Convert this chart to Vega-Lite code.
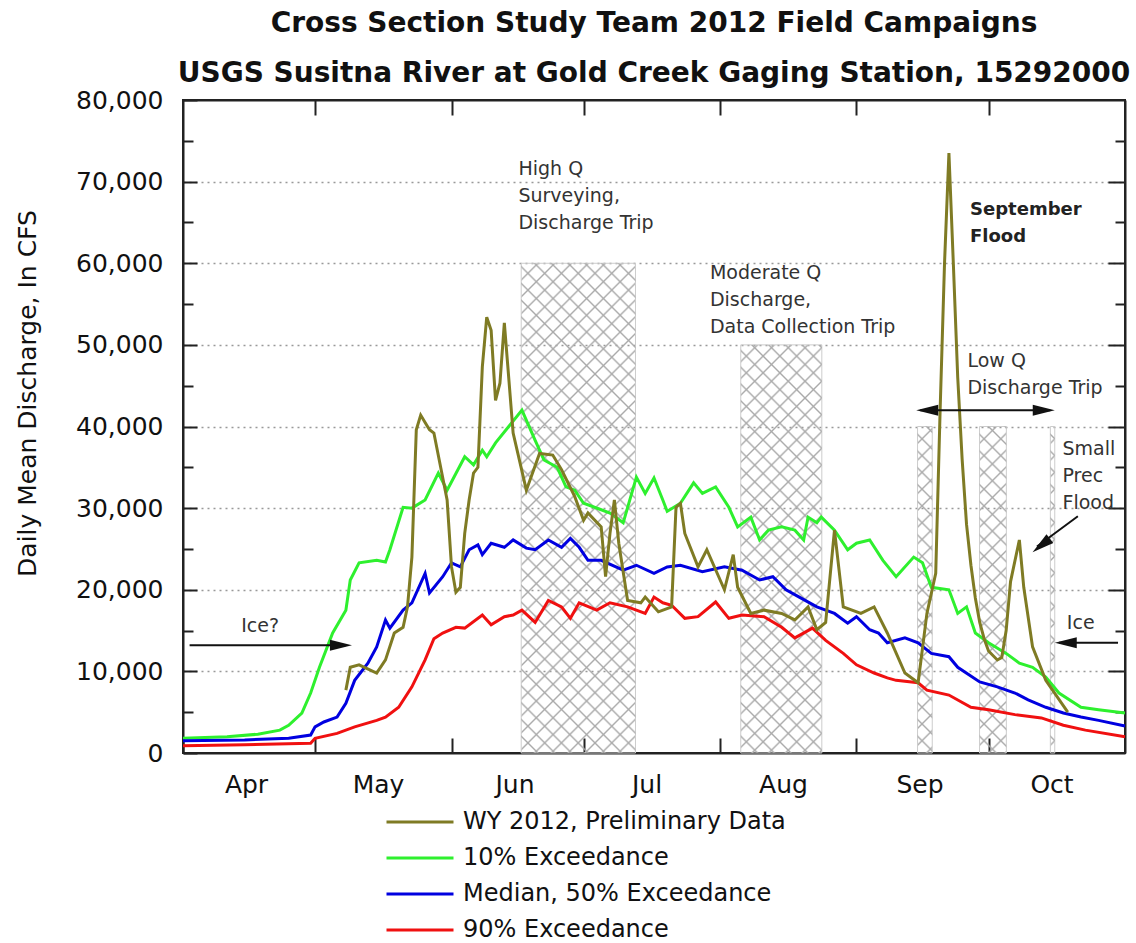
{
  "$schema": "https://vega.github.io/schema/vega-lite/v6.json",
  "width": 942,
  "height": 653,
  "autosize": {"type": "none"},
  "padding": {"left": 183, "top": 100, "right": 11, "bottom": 190},
  "background": "white",
  "title": {
    "text": ["Cross Section Study Team 2012 Field Campaigns", "USGS Susitna River at Gold Creek Gaging Station, 15292000"],
    "font": "DejaVu Sans", "fontSize": 28, "fontWeight": "bold", "lineHeight": 50, "anchor": "middle", "offset": 0, "color": "#111"
  },
  "params": [
    {"name": "hatch", "value": [
      {"offset":0.0245,"color":"rgba(170,170,170,0)"},{"offset":0.0278,"color":"#aaaaaa"},{"offset":0.0311,"color":"rgba(170,170,170,0)"},
      {"offset":0.0523,"color":"rgba(170,170,170,0)"},{"offset":0.0556,"color":"#aaaaaa"},{"offset":0.0589,"color":"rgba(170,170,170,0)"},
      {"offset":0.0800,"color":"rgba(170,170,170,0)"},{"offset":0.0833,"color":"#aaaaaa"},{"offset":0.0866,"color":"rgba(170,170,170,0)"},
      {"offset":0.1078,"color":"rgba(170,170,170,0)"},{"offset":0.1111,"color":"#aaaaaa"},{"offset":0.1144,"color":"rgba(170,170,170,0)"},
      {"offset":0.1356,"color":"rgba(170,170,170,0)"},{"offset":0.1389,"color":"#aaaaaa"},{"offset":0.1422,"color":"rgba(170,170,170,0)"},
      {"offset":0.1634,"color":"rgba(170,170,170,0)"},{"offset":0.1667,"color":"#aaaaaa"},{"offset":0.1700,"color":"rgba(170,170,170,0)"},
      {"offset":0.1911,"color":"rgba(170,170,170,0)"},{"offset":0.1944,"color":"#aaaaaa"},{"offset":0.1977,"color":"rgba(170,170,170,0)"},
      {"offset":0.2189,"color":"rgba(170,170,170,0)"},{"offset":0.2222,"color":"#aaaaaa"},{"offset":0.2255,"color":"rgba(170,170,170,0)"},
      {"offset":0.2467,"color":"rgba(170,170,170,0)"},{"offset":0.2500,"color":"#aaaaaa"},{"offset":0.2533,"color":"rgba(170,170,170,0)"},
      {"offset":0.2745,"color":"rgba(170,170,170,0)"},{"offset":0.2778,"color":"#aaaaaa"},{"offset":0.2811,"color":"rgba(170,170,170,0)"},
      {"offset":0.3023,"color":"rgba(170,170,170,0)"},{"offset":0.3056,"color":"#aaaaaa"},{"offset":0.3089,"color":"rgba(170,170,170,0)"},
      {"offset":0.3300,"color":"rgba(170,170,170,0)"},{"offset":0.3333,"color":"#aaaaaa"},{"offset":0.3366,"color":"rgba(170,170,170,0)"},
      {"offset":0.3578,"color":"rgba(170,170,170,0)"},{"offset":0.3611,"color":"#aaaaaa"},{"offset":0.3644,"color":"rgba(170,170,170,0)"},
      {"offset":0.3856,"color":"rgba(170,170,170,0)"},{"offset":0.3889,"color":"#aaaaaa"},{"offset":0.3922,"color":"rgba(170,170,170,0)"},
      {"offset":0.4134,"color":"rgba(170,170,170,0)"},{"offset":0.4167,"color":"#aaaaaa"},{"offset":0.4200,"color":"rgba(170,170,170,0)"},
      {"offset":0.4411,"color":"rgba(170,170,170,0)"},{"offset":0.4444,"color":"#aaaaaa"},{"offset":0.4477,"color":"rgba(170,170,170,0)"},
      {"offset":0.4689,"color":"rgba(170,170,170,0)"},{"offset":0.4722,"color":"#aaaaaa"},{"offset":0.4755,"color":"rgba(170,170,170,0)"},
      {"offset":0.4967,"color":"rgba(170,170,170,0)"},{"offset":0.5000,"color":"#aaaaaa"},{"offset":0.5033,"color":"rgba(170,170,170,0)"},
      {"offset":0.5245,"color":"rgba(170,170,170,0)"},{"offset":0.5278,"color":"#aaaaaa"},{"offset":0.5311,"color":"rgba(170,170,170,0)"},
      {"offset":0.5523,"color":"rgba(170,170,170,0)"},{"offset":0.5556,"color":"#aaaaaa"},{"offset":0.5589,"color":"rgba(170,170,170,0)"},
      {"offset":0.5800,"color":"rgba(170,170,170,0)"},{"offset":0.5833,"color":"#aaaaaa"},{"offset":0.5866,"color":"rgba(170,170,170,0)"},
      {"offset":0.6078,"color":"rgba(170,170,170,0)"},{"offset":0.6111,"color":"#aaaaaa"},{"offset":0.6144,"color":"rgba(170,170,170,0)"},
      {"offset":0.6356,"color":"rgba(170,170,170,0)"},{"offset":0.6389,"color":"#aaaaaa"},{"offset":0.6422,"color":"rgba(170,170,170,0)"},
      {"offset":0.6634,"color":"rgba(170,170,170,0)"},{"offset":0.6667,"color":"#aaaaaa"},{"offset":0.6700,"color":"rgba(170,170,170,0)"},
      {"offset":0.6911,"color":"rgba(170,170,170,0)"},{"offset":0.6944,"color":"#aaaaaa"},{"offset":0.6977,"color":"rgba(170,170,170,0)"},
      {"offset":0.7189,"color":"rgba(170,170,170,0)"},{"offset":0.7222,"color":"#aaaaaa"},{"offset":0.7255,"color":"rgba(170,170,170,0)"},
      {"offset":0.7467,"color":"rgba(170,170,170,0)"},{"offset":0.7500,"color":"#aaaaaa"},{"offset":0.7533,"color":"rgba(170,170,170,0)"},
      {"offset":0.7745,"color":"rgba(170,170,170,0)"},{"offset":0.7778,"color":"#aaaaaa"},{"offset":0.7811,"color":"rgba(170,170,170,0)"},
      {"offset":0.8023,"color":"rgba(170,170,170,0)"},{"offset":0.8056,"color":"#aaaaaa"},{"offset":0.8089,"color":"rgba(170,170,170,0)"},
      {"offset":0.8300,"color":"rgba(170,170,170,0)"},{"offset":0.8333,"color":"#aaaaaa"},{"offset":0.8366,"color":"rgba(170,170,170,0)"},
      {"offset":0.8578,"color":"rgba(170,170,170,0)"},{"offset":0.8611,"color":"#aaaaaa"},{"offset":0.8644,"color":"rgba(170,170,170,0)"},
      {"offset":0.8856,"color":"rgba(170,170,170,0)"},{"offset":0.8889,"color":"#aaaaaa"},{"offset":0.8922,"color":"rgba(170,170,170,0)"},
      {"offset":0.9134,"color":"rgba(170,170,170,0)"},{"offset":0.9167,"color":"#aaaaaa"},{"offset":0.9200,"color":"rgba(170,170,170,0)"},
      {"offset":0.9411,"color":"rgba(170,170,170,0)"},{"offset":0.9444,"color":"#aaaaaa"},{"offset":0.9477,"color":"rgba(170,170,170,0)"},
      {"offset":0.9689,"color":"rgba(170,170,170,0)"},{"offset":0.9722,"color":"#aaaaaa"},{"offset":0.9755,"color":"rgba(170,170,170,0)"}
    ]}
  ],
  "config": {
    "view": {"stroke": "#222", "strokeWidth": 2},
    "font": "DejaVu Sans",
    "axis": {
      "domainColor": "#222", "domainWidth": 2, "tickColor": "#222", "tickWidth": 2,
      "labelFont": "DejaVu Sans", "labelColor": "#111", "titleFont": "DejaVu Sans", "titleColor": "#111",
      "gridColor": "#999", "gridDash": [2, 4], "gridWidth": 1.3, "labelFlush": false, "labelOverlap": false, "labelBound": false
    }
  },
  "datasets": {
    "flows": [
      {"s":"P10","d":"2012-04-01","q":1800},{"s":"P10","d":"2012-04-11","q":2000},{"s":"P10","d":"2012-04-18","q":2300},{"s":"P10","d":"2012-04-23","q":2800},{"s":"P10","d":"2012-04-25","q":3400},{"s":"P10","d":"2012-04-28","q":4900},{"s":"P10","d":"2012-04-30","q":7350},{"s":"P10","d":"2012-05-02","q":10500},{"s":"P10","d":"2012-05-05","q":14700},{"s":"P10","d":"2012-05-08","q":17500},{"s":"P10","d":"2012-05-09","q":21200},{"s":"P10","d":"2012-05-11","q":23300},{"s":"P10","d":"2012-05-15","q":23600},{"s":"P10","d":"2012-05-17","q":23400},{"s":"P10","d":"2012-05-18","q":24900},{"s":"P10","d":"2012-05-21","q":30100},{"s":"P10","d":"2012-05-23","q":30000},{"s":"P10","d":"2012-05-26","q":31000},{"s":"P10","d":"2012-05-29","q":34300},{"s":"P10","d":"2012-05-31","q":32200},{"s":"P10","d":"2012-06-04","q":36300},{"s":"P10","d":"2012-06-06","q":35300},{"s":"P10","d":"2012-06-08","q":37100},{"s":"P10","d":"2012-06-09","q":36300},{"s":"P10","d":"2012-06-11","q":38000},{"s":"P10","d":"2012-06-14","q":40000},{"s":"P10","d":"2012-06-17","q":42000},{"s":"P10","d":"2012-06-20","q":38300},{"s":"P10","d":"2012-06-22","q":35900},{"s":"P10","d":"2012-06-25","q":35000},{"s":"P10","d":"2012-06-27","q":32600},{"s":"P10","d":"2012-06-29","q":32200},{"s":"P10","d":"2012-07-01","q":30600},{"s":"P10","d":"2012-07-05","q":29800},{"s":"P10","d":"2012-07-07","q":29400},{"s":"P10","d":"2012-07-10","q":28200},{"s":"P10","d":"2012-07-13","q":33800},{"s":"P10","d":"2012-07-15","q":31800},{"s":"P10","d":"2012-07-17","q":33700},{"s":"P10","d":"2012-07-19","q":31000},{"s":"P10","d":"2012-07-20","q":29600},{"s":"P10","d":"2012-07-23","q":30600},{"s":"P10","d":"2012-07-26","q":33100},{"s":"P10","d":"2012-07-28","q":31800},{"s":"P10","d":"2012-07-31","q":32600},{"s":"P10","d":"2012-08-03","q":30100},{"s":"P10","d":"2012-08-05","q":27700},{"s":"P10","d":"2012-08-08","q":28900},{"s":"P10","d":"2012-08-10","q":26100},{"s":"P10","d":"2012-08-12","q":27300},{"s":"P10","d":"2012-08-15","q":27700},{"s":"P10","d":"2012-08-18","q":27300},{"s":"P10","d":"2012-08-20","q":26100},{"s":"P10","d":"2012-08-21","q":28900},{"s":"P10","d":"2012-08-23","q":28200},{"s":"P10","d":"2012-08-24","q":28900},{"s":"P10","d":"2012-08-27","q":27300},{"s":"P10","d":"2012-08-30","q":24900},{"s":"P10","d":"2012-09-01","q":25700},{"s":"P10","d":"2012-09-04","q":26100},{"s":"P10","d":"2012-09-07","q":23600},{"s":"P10","d":"2012-09-10","q":21600},{"s":"P10","d":"2012-09-14","q":24000},{"s":"P10","d":"2012-09-16","q":23300},{"s":"P10","d":"2012-09-18","q":20300},{"s":"P10","d":"2012-09-22","q":20000},{"s":"P10","d":"2012-09-24","q":17100},{"s":"P10","d":"2012-09-26","q":17900},{"s":"P10","d":"2012-09-28","q":14700},{"s":"P10","d":"2012-10-01","q":13500},{"s":"P10","d":"2012-10-05","q":12200},{"s":"P10","d":"2012-10-08","q":11000},{"s":"P10","d":"2012-10-11","q":10500},{"s":"P10","d":"2012-10-14","q":9300},{"s":"P10","d":"2012-10-17","q":7350},{"s":"P10","d":"2012-10-22","q":5600},{"s":"P10","d":"2012-10-26","q":5300},{"s":"P10","d":"2012-11-01","q":4900},
      {"s":"P50","d":"2012-04-01","q":1500},{"s":"P50","d":"2012-04-15","q":1600},{"s":"P50","d":"2012-04-25","q":1800},{"s":"P50","d":"2012-04-30","q":2200},{"s":"P50","d":"2012-05-01","q":3200},{"s":"P50","d":"2012-05-03","q":3800},{"s":"P50","d":"2012-05-06","q":4400},{"s":"P50","d":"2012-05-08","q":6100},{"s":"P50","d":"2012-05-10","q":8900},{"s":"P50","d":"2012-05-13","q":11000},{"s":"P50","d":"2012-05-15","q":13000},{"s":"P50","d":"2012-05-17","q":16300},{"s":"P50","d":"2012-05-18","q":15300},{"s":"P50","d":"2012-05-21","q":17500},{"s":"P50","d":"2012-05-23","q":18400},{"s":"P50","d":"2012-05-26","q":22000},{"s":"P50","d":"2012-05-27","q":19600},{"s":"P50","d":"2012-05-30","q":21600},{"s":"P50","d":"2012-06-01","q":23300},{"s":"P50","d":"2012-06-03","q":22800},{"s":"P50","d":"2012-06-05","q":24900},{"s":"P50","d":"2012-06-07","q":25500},{"s":"P50","d":"2012-06-08","q":24300},{"s":"P50","d":"2012-06-10","q":25700},{"s":"P50","d":"2012-06-13","q":25200},{"s":"P50","d":"2012-06-15","q":26100},{"s":"P50","d":"2012-06-18","q":25100},{"s":"P50","d":"2012-06-20","q":24900},{"s":"P50","d":"2012-06-23","q":26100},{"s":"P50","d":"2012-06-26","q":25200},{"s":"P50","d":"2012-06-28","q":26300},{"s":"P50","d":"2012-06-30","q":25200},{"s":"P50","d":"2012-07-02","q":23600},{"s":"P50","d":"2012-07-05","q":23600},{"s":"P50","d":"2012-07-10","q":22400},{"s":"P50","d":"2012-07-13","q":23000},{"s":"P50","d":"2012-07-17","q":22000},{"s":"P50","d":"2012-07-20","q":22800},{"s":"P50","d":"2012-07-23","q":23000},{"s":"P50","d":"2012-07-28","q":22200},{"s":"P50","d":"2012-08-02","q":22800},{"s":"P50","d":"2012-08-06","q":22400},{"s":"P50","d":"2012-08-10","q":21200},{"s":"P50","d":"2012-08-13","q":21600},{"s":"P50","d":"2012-08-16","q":20000},{"s":"P50","d":"2012-08-19","q":19100},{"s":"P50","d":"2012-08-23","q":17900},{"s":"P50","d":"2012-08-27","q":17100},{"s":"P50","d":"2012-08-30","q":15900},{"s":"P50","d":"2012-09-01","q":16700},{"s":"P50","d":"2012-09-04","q":15100},{"s":"P50","d":"2012-09-06","q":14700},{"s":"P50","d":"2012-09-08","q":13500},{"s":"P50","d":"2012-09-12","q":14100},{"s":"P50","d":"2012-09-15","q":13500},{"s":"P50","d":"2012-09-18","q":12200},{"s":"P50","d":"2012-09-22","q":11800},{"s":"P50","d":"2012-09-24","q":10500},{"s":"P50","d":"2012-09-29","q":8700},{"s":"P50","d":"2012-10-03","q":8100},{"s":"P50","d":"2012-10-07","q":7350},{"s":"P50","d":"2012-10-10","q":6500},{"s":"P50","d":"2012-10-14","q":5600},{"s":"P50","d":"2012-10-18","q":4900},{"s":"P50","d":"2012-10-22","q":4400},{"s":"P50","d":"2012-10-26","q":4000},{"s":"P50","d":"2012-11-01","q":3300},
      {"s":"P90","d":"2012-04-01","q":900},{"s":"P90","d":"2012-04-15","q":1000},{"s":"P90","d":"2012-04-30","q":1200},{"s":"P90","d":"2012-05-01","q":1800},{"s":"P90","d":"2012-05-06","q":2400},{"s":"P90","d":"2012-05-10","q":3200},{"s":"P90","d":"2012-05-15","q":4000},{"s":"P90","d":"2012-05-17","q":4400},{"s":"P90","d":"2012-05-20","q":5600},{"s":"P90","d":"2012-05-23","q":8100},{"s":"P90","d":"2012-05-26","q":11400},{"s":"P90","d":"2012-05-28","q":14000},{"s":"P90","d":"2012-05-30","q":14700},{"s":"P90","d":"2012-06-02","q":15400},{"s":"P90","d":"2012-06-04","q":15300},{"s":"P90","d":"2012-06-08","q":16900},{"s":"P90","d":"2012-06-10","q":15700},{"s":"P90","d":"2012-06-13","q":16700},{"s":"P90","d":"2012-06-15","q":16900},{"s":"P90","d":"2012-06-17","q":17500},{"s":"P90","d":"2012-06-20","q":16000},{"s":"P90","d":"2012-06-23","q":18700},{"s":"P90","d":"2012-06-26","q":17900},{"s":"P90","d":"2012-06-28","q":16500},{"s":"P90","d":"2012-06-30","q":18400},{"s":"P90","d":"2012-07-04","q":17500},{"s":"P90","d":"2012-07-07","q":18400},{"s":"P90","d":"2012-07-11","q":17900},{"s":"P90","d":"2012-07-15","q":17100},{"s":"P90","d":"2012-07-17","q":19100},{"s":"P90","d":"2012-07-19","q":18400},{"s":"P90","d":"2012-07-21","q":18100},{"s":"P90","d":"2012-07-24","q":16500},{"s":"P90","d":"2012-07-27","q":16700},{"s":"P90","d":"2012-07-31","q":18500},{"s":"P90","d":"2012-08-03","q":16500},{"s":"P90","d":"2012-08-06","q":16900},{"s":"P90","d":"2012-08-11","q":16700},{"s":"P90","d":"2012-08-15","q":15400},{"s":"P90","d":"2012-08-18","q":14100},{"s":"P90","d":"2012-08-22","q":15300},{"s":"P90","d":"2012-08-25","q":13800},{"s":"P90","d":"2012-08-29","q":12200},{"s":"P90","d":"2012-09-01","q":10800},{"s":"P90","d":"2012-09-05","q":9800},{"s":"P90","d":"2012-09-08","q":9200},{"s":"P90","d":"2012-09-10","q":8900},{"s":"P90","d":"2012-09-15","q":8600},{"s":"P90","d":"2012-09-17","q":7700},{"s":"P90","d":"2012-09-22","q":7100},{"s":"P90","d":"2012-09-27","q":5600},{"s":"P90","d":"2012-10-01","q":5300},{"s":"P90","d":"2012-10-07","q":4700},{"s":"P90","d":"2012-10-13","q":4300},{"s":"P90","d":"2012-10-18","q":3400},{"s":"P90","d":"2012-10-23","q":2800},{"s":"P90","d":"2012-11-01","q":2000},
      {"s":"WY","d":"2012-05-08","q":7700},{"s":"WY","d":"2012-05-09","q":10500},{"s":"WY","d":"2012-05-11","q":10800},{"s":"WY","d":"2012-05-15","q":9800},{"s":"WY","d":"2012-05-17","q":11400},{"s":"WY","d":"2012-05-19","q":14700},{"s":"WY","d":"2012-05-21","q":15400},{"s":"WY","d":"2012-05-22","q":17900},{"s":"WY","d":"2012-05-23","q":24000},{"s":"WY","d":"2012-05-24","q":39600},{"s":"WY","d":"2012-05-25","q":41400},{"s":"WY","d":"2012-05-26","q":40500},{"s":"WY","d":"2012-05-27","q":39600},{"s":"WY","d":"2012-05-28","q":39200},{"s":"WY","d":"2012-05-31","q":31000},{"s":"WY","d":"2012-06-01","q":22800},{"s":"WY","d":"2012-06-02","q":19700},{"s":"WY","d":"2012-06-03","q":20300},{"s":"WY","d":"2012-06-04","q":26900},{"s":"WY","d":"2012-06-05","q":31000},{"s":"WY","d":"2012-06-06","q":34300},{"s":"WY","d":"2012-06-07","q":35000},{"s":"WY","d":"2012-06-08","q":47300},{"s":"WY","d":"2012-06-09","q":53400},{"s":"WY","d":"2012-06-10","q":51800},{"s":"WY","d":"2012-06-11","q":43200},{"s":"WY","d":"2012-06-12","q":45300},{"s":"WY","d":"2012-06-13","q":52700},{"s":"WY","d":"2012-06-15","q":39200},{"s":"WY","d":"2012-06-18","q":32200},{"s":"WY","d":"2012-06-21","q":36700},{"s":"WY","d":"2012-06-24","q":36500},{"s":"WY","d":"2012-06-26","q":34700},{"s":"WY","d":"2012-06-29","q":31400},{"s":"WY","d":"2012-07-01","q":28500},{"s":"WY","d":"2012-07-02","q":29400},{"s":"WY","d":"2012-07-05","q":27700},{"s":"WY","d":"2012-07-06","q":21600},{"s":"WY","d":"2012-07-07","q":26900},{"s":"WY","d":"2012-07-08","q":31000},{"s":"WY","d":"2012-07-09","q":25700},{"s":"WY","d":"2012-07-11","q":18700},{"s":"WY","d":"2012-07-14","q":18400},{"s":"WY","d":"2012-07-15","q":19100},{"s":"WY","d":"2012-07-18","q":17300},{"s":"WY","d":"2012-07-21","q":17900},{"s":"WY","d":"2012-07-22","q":30100},{"s":"WY","d":"2012-07-23","q":30600},{"s":"WY","d":"2012-07-24","q":26900},{"s":"WY","d":"2012-07-27","q":22800},{"s":"WY","d":"2012-07-29","q":24900},{"s":"WY","d":"2012-08-02","q":20000},{"s":"WY","d":"2012-08-04","q":24300},{"s":"WY","d":"2012-08-05","q":20300},{"s":"WY","d":"2012-08-08","q":17100},{"s":"WY","d":"2012-08-11","q":17500},{"s":"WY","d":"2012-08-15","q":17100},{"s":"WY","d":"2012-08-18","q":16300},{"s":"WY","d":"2012-08-21","q":17900},{"s":"WY","d":"2012-08-23","q":15100},{"s":"WY","d":"2012-08-25","q":16000},{"s":"WY","d":"2012-08-27","q":27300},{"s":"WY","d":"2012-08-29","q":17900},{"s":"WY","d":"2012-09-02","q":17100},{"s":"WY","d":"2012-09-05","q":17900},{"s":"WY","d":"2012-09-08","q":14700},{"s":"WY","d":"2012-09-12","q":9800},{"s":"WY","d":"2012-09-15","q":8600},{"s":"WY","d":"2012-09-17","q":17100},{"s":"WY","d":"2012-09-19","q":22000},{"s":"WY","d":"2012-09-20","q":42000},{"s":"WY","d":"2012-09-21","q":60000},{"s":"WY","d":"2012-09-22","q":73500},{"s":"WY","d":"2012-09-23","q":60000},{"s":"WY","d":"2012-09-24","q":46000},{"s":"WY","d":"2012-09-25","q":36000},{"s":"WY","d":"2012-09-26","q":28000},{"s":"WY","d":"2012-09-27","q":23000},{"s":"WY","d":"2012-09-28","q":19000},{"s":"WY","d":"2012-09-29","q":16000},{"s":"WY","d":"2012-09-30","q":14000},{"s":"WY","d":"2012-10-01","q":12500},{"s":"WY","d":"2012-10-03","q":11400},{"s":"WY","d":"2012-10-04","q":11700},{"s":"WY","d":"2012-10-05","q":15000},{"s":"WY","d":"2012-10-06","q":21000},{"s":"WY","d":"2012-10-08","q":26100},{"s":"WY","d":"2012-10-09","q":20300},{"s":"WY","d":"2012-10-11","q":13000},{"s":"WY","d":"2012-10-14","q":8900},{"s":"WY","d":"2012-10-19","q":5000}
    ],
    "trips": [
      {"start":"2012-06-16T20:00","end":"2012-07-12T19:00","top":60000},
      {"start":"2012-08-05T17:00","end":"2012-08-24T03:00","top":50000},
      {"start":"2012-09-14T21:00","end":"2012-09-18T05:00","top":40000},
      {"start":"2012-09-28T23:00","end":"2012-10-05T01:00","top":40000},
      {"start":"2012-10-15T01:00","end":"2012-10-16T01:00","top":40000}
    ],
    "notes": [
      {"d":"2012-06-16T05:00","q":70800,"label":"High Q\nSurveying,\nDischarge Trip"},
      {"d":"2012-07-29T17:00","q":58100,"label":"Moderate Q\nDischarge,\nData Collection Trip"},
      {"d":"2012-09-26T05:00","q":47300,"label":"Low Q\nDischarge Trip"},
      {"d":"2012-10-17T19:00","q":36500,"label":"Small\nPrec\nFlood"},
      {"d":"2012-04-14T05:00","q":14800,"label":"Ice?"},
      {"d":"2012-10-18T19:00","q":15200,"label":"Ice"}
    ],
    "boldnotes": [
      {"d":"2012-09-26T19:00","q":65900,"label":"September\nFlood"}
    ],
    "shafts": [
      {"d1":"2012-04-02T12:00","q1":13200,"d2":"2012-05-08T00:00","q2":13200},
      {"d1":"2012-10-17T00:00","q1":13500,"d2":"2012-10-30T10:00","q2":13500},
      {"d1":"2012-09-15T12:00","q1":42000,"d2":"2012-10-15T00:00","q2":42000},
      {"d1":"2012-10-21T07:00","q1":29000,"d2":"2012-10-12T00:00","q2":25300}
    ],
    "heads": [
      {"d":"2012-05-09T09:00","q":13200,"dir":"right"},
      {"d":"2012-10-16T01:00","q":13500,"dir":"left"},
      {"d":"2012-09-14T14:00","q":42000,"dir":"left"},
      {"d":"2012-10-16T01:00","q":42000,"dir":"right"},
      {"d":"2012-10-11T00:00","q":24600,"dir":"downleft"}
    ]
  },
  "layer": [
    {
      "data": {"name": "trips"},
      "mark": {"type": "rect", "stroke": "#cccccc", "strokeWidth": 1},
      "encoding": {
        "x": {"field": "start", "type": "temporal",
              "scale": {"domain": [{"year": 2012, "month": 4, "date": 1}, {"year": 2012, "month": 11, "date": 1}]},
              "axis": {"orient": "top", "values": [{"year": 2012, "month": 5, "date": 1}, {"year": 2012, "month": 6, "date": 1}, {"year": 2012, "month": 7, "date": 1}, {"year": 2012, "month": 8, "date": 1}, {"year": 2012, "month": 9, "date": 1}, {"year": 2012, "month": 10, "date": 1}],
                       "labels": false, "tickSize": -15, "grid": false, "title": null}},
        "x2": {"field": "end"},
        "y": {"field": "top", "type": "quantitative",
              "scale": {"domain": [0, 80000], "nice": false},
              "axis": {"orient": "right", "values": [10000, 20000, 30000, 40000, 50000, 60000, 70000], "labels": false, "tickSize": -17, "grid": false, "title": null}},
        "y2": {"datum": 0},
        "fill": {"value": {"expr": "{gradient: 'linear', x1: 0, y1: 0, x2: 603.75*(scale('x', datum.end) - scale('x', datum.start)) / (pow(scale('x', datum.end) - scale('x', datum.start), 2) + pow(scale('y', 0) - scale('y', datum.top), 2)), y2: 603.75*(scale('y', 0) - scale('y', datum.top)) / (pow(scale('x', datum.end) - scale('x', datum.start), 2) + pow(scale('y', 0) - scale('y', datum.top), 2)), stops: hatch}"}}
      }
    },
    {
      "data": {"name": "trips"},
      "mark": {"type": "rect", "strokeWidth": 0},
      "encoding": {
        "x": {"field": "start", "type": "temporal", "axis": null},
        "x2": {"field": "end"},
        "y": {"field": "top", "type": "quantitative", "axis": null},
        "y2": {"datum": 0},
        "fill": {"value": {"expr": "{gradient: 'linear', x1: 0, y1: 1, x2: 603.75*(scale('x', datum.end) - scale('x', datum.start)) / (pow(scale('x', datum.end) - scale('x', datum.start), 2) + pow(scale('y', 0) - scale('y', datum.top), 2)), y2: 1 - 603.75*(scale('y', 0) - scale('y', datum.top)) / (pow(scale('x', datum.end) - scale('x', datum.start), 2) + pow(scale('y', 0) - scale('y', datum.top), 2)), stops: hatch}"}}
      }
    },
    {
      "data": {"name": "flows"},
      "mark": {"type": "line", "strokeWidth": 3, "interpolate": "linear"},
      "encoding": {
        "x": {"field": "d", "type": "temporal",
              "axis": {"orient": "bottom", "values": [{"year": 2012, "month": 4, "date": 1}, {"year": 2012, "month": 5, "date": 1}, {"year": 2012, "month": 6, "date": 1}, {"year": 2012, "month": 7, "date": 1}, {"year": 2012, "month": 8, "date": 1}, {"year": 2012, "month": 9, "date": 1}, {"year": 2012, "month": 10, "date": 1}],
                       "format": "%b", "tickSize": -15, "labelPadding": 34, "labelOffset": 63, "labelAlign": "center", "labelFontSize": 25, "grid": false, "title": null}},
        "y": {"field": "q", "type": "quantitative",
              "axis": {"orient": "left", "values": [0, 10000, 20000, 30000, 40000, 50000, 60000, 70000, 80000], "format": ",d",
                       "tickSize": -14, "labelPadding": 34, "labelFontSize": 25,
                       "grid": true, "gridOpacity": {"condition": {"test": "datum.value == 0 || datum.value == 80000", "value": 0}, "value": 1},
                       "title": "Daily Mean Discharge, In CFS", "titleFontSize": 25, "titleFontWeight": "normal",
                       "titleX": -156, "titleY": 293, "titleAngle": -90, "titleAlign": "center", "titleBaseline": "middle"}},
        "color": {"field": "s", "type": "nominal",
                  "scale": {"domain": ["WY", "P10", "P50", "P90"], "range": ["#7f7b24", "#2ef02e", "#0000e0", "#f01010"]},
                  "legend": {"orient": "none", "legendX": 202, "legendY": 705, "title": null, "symbolType": "stroke", "symbolSize": 4489, "symbolStrokeWidth": 3,
                             "clipHeight": 34, "labelFontSize": 24, "labelFont": "DejaVu Sans", "labelColor": "#111", "labelOffset": 8, "rowPadding": 2, "labelLimit": 700, "padding": 0,
                             "labelExpr": "datum.label == 'WY' ? 'WY 2012, Preliminary Data' : datum.label == 'P10' ? '10% Exceedance' : datum.label == 'P50' ? 'Median, 50% Exceedance' : '90% Exceedance'"}}
      }
    },
    {
      "data": {"name": "notes"},
      "mark": {"type": "text", "align": "left", "baseline": "alphabetic", "lineBreak": "\n", "lineHeight": 27, "fontSize": 19, "font": "DejaVu Sans", "color": "#333"},
      "encoding": {
        "x": {"field": "d", "type": "temporal", "axis": null},
        "y": {"field": "q", "type": "quantitative",
              "axis": {"orient": "left", "values": [5000, 15000, 25000, 35000, 45000, 55000, 65000, 75000], "labels": false, "tickSize": -10, "domain": false, "grid": false, "title": null}},
        "text": {"field": "label"}
      }
    },
    {
      "data": {"name": "boldnotes"},
      "mark": {"type": "text", "align": "left", "baseline": "alphabetic", "lineBreak": "\n", "lineHeight": 27, "fontSize": 18, "fontWeight": "bold", "font": "DejaVu Sans", "color": "#222"},
      "encoding": {
        "x": {"field": "d", "type": "temporal", "axis": null},
        "y": {"field": "q", "type": "quantitative",
              "axis": {"orient": "right", "values": [5000, 15000, 25000, 35000, 45000, 55000, 65000, 75000], "labels": false, "tickSize": -10, "domain": false, "grid": false, "title": null}},
        "text": {"field": "label"}
      }
    },
    {
      "data": {"name": "shafts"},
      "mark": {"type": "rule", "strokeWidth": 2, "color": "#111"},
      "encoding": {
        "x": {"field": "d1", "type": "temporal", "axis": null},
        "x2": {"field": "d2"},
        "y": {"field": "q1", "type": "quantitative", "axis": null},
        "y2": {"field": "q2"}
      }
    },
    {
      "data": {"name": "heads"},
      "transform": [{"filter": "datum.dir == 'right'"}],
      "mark": {"type": "point", "shape": "M0,0L-2,-0.5L-2,0.5Z", "size": 484, "filled": true, "color": "#111", "opacity": 1},
      "encoding": {
        "x": {"field": "d", "type": "temporal", "axis": null},
        "y": {"field": "q", "type": "quantitative", "axis": null}
      }
    },
    {
      "data": {"name": "heads"},
      "transform": [{"filter": "datum.dir == 'left'"}],
      "mark": {"type": "point", "shape": "M0,0L2,-0.5L2,0.5Z", "size": 484, "filled": true, "color": "#111", "opacity": 1},
      "encoding": {
        "x": {"field": "d", "type": "temporal", "axis": null},
        "y": {"field": "q", "type": "quantitative", "axis": null}
      }
    },
    {
      "data": {"name": "heads"},
      "transform": [{"filter": "datum.dir == 'downleft'"}],
      "mark": {"type": "point", "shape": "M0,0L-2,-0.5L-2,0.5Z", "size": 484, "angle": 142, "filled": true, "color": "#111", "opacity": 1},
      "encoding": {
        "x": {"field": "d", "type": "temporal", "axis": null},
        "y": {"field": "q", "type": "quantitative", "axis": null}
      }
    }
  ],
  "resolve": {"axis": {"x": "independent", "y": "independent"}}
}
